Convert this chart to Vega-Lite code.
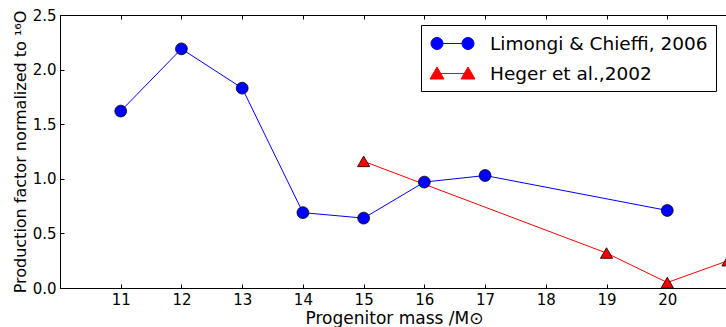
{
  "$schema": "https://vega.github.io/schema/vega-lite/v6.json",
  "autosize": "none",
  "width": 668,
  "height": 273,
  "padding": {"left": 60, "top": 15, "right": 0, "bottom": 39},
  "background": "white",
  "config": {
    "view": {"stroke": "black", "strokeWidth": 1},
    "font": "DejaVu Sans",
    "axis": {
      "labelFont": "DejaVu Sans",
      "titleFont": "DejaVu Sans",
      "labelFontSize": 15,
      "titleFontSize": 17,
      "titleFontWeight": "normal",
      "labelColor": "black",
      "titleColor": "black",
      "domainColor": "black",
      "tickColor": "black",
      "grid": false,
      "tickSize": -4,
      "labelPadding": 8
    }
  },
  "data": {
    "values": [
      {"series": "Limongi & Chieffi, 2006", "mass": 11, "pf": 1.62},
      {"series": "Limongi & Chieffi, 2006", "mass": 12, "pf": 2.19},
      {"series": "Limongi & Chieffi, 2006", "mass": 13, "pf": 1.83},
      {"series": "Limongi & Chieffi, 2006", "mass": 14, "pf": 0.69},
      {"series": "Limongi & Chieffi, 2006", "mass": 15, "pf": 0.64},
      {"series": "Limongi & Chieffi, 2006", "mass": 16, "pf": 0.97},
      {"series": "Limongi & Chieffi, 2006", "mass": 17, "pf": 1.03},
      {"series": "Limongi & Chieffi, 2006", "mass": 20, "pf": 0.71},
      {"series": "Heger et al.,2002", "mass": 15, "pf": 1.16},
      {"series": "Heger et al.,2002", "mass": 19, "pf": 0.32},
      {"series": "Heger et al.,2002", "mass": 20, "pf": 0.05},
      {"series": "Heger et al.,2002", "mass": 21, "pf": 0.25}
    ]
  },
  "encoding": {
    "x": {
      "field": "mass", "type": "quantitative",
      "scale": {"domain": [10, 21], "nice": false, "zero": false},
      "axis": null
    },
    "y": {
      "field": "pf", "type": "quantitative",
      "scale": {"domain": [0, 2.5], "nice": false},
      "axis": {"values": [0, 0.5, 1, 1.5, 2, 2.5], "format": ".1f", "title": "Production factor normalized to ¹⁶O", "titleFontSize": 16, "titlePadding": 4}
    }
  },
  "layer": [
    {
      "mark": {"type": "line", "strokeWidth": 1, "clip": true},
      "encoding": {
        "x": {"field": "mass", "type": "quantitative",
          "axis": {"orient": "bottom", "values": [11,12,13,14,15,16,17,18,19,20], "title": "Progenitor mass /M⊙", "titlePadding": 3}},
        "color": {
          "field": "series", "type": "nominal",
          "scale": {"domain": ["Limongi & Chieffi, 2006", "Heger et al.,2002"], "range": ["#0000ff", "#ff0000"]},
          "legend": {
            "title": null,
            "orient": "none",
            "legendX": 361,
            "legendY": 10,
            "labelFont": "DejaVu Sans",
            "labelFontSize": 18.5,
            "labelColor": "black",
            "labelLimit": 400,
            "labelOffset": 27,
            "symbolSize": 400,
            "symbolOffset": 13,
            "symbolStrokeWidth": 1,
            "rowPadding": 10,
            "padding": 8,
            "strokeColor": "black",
            "fillColor": "white",
            "encode": {
              "symbols": {
                "update": {
                  "shape": {"signal": "datum.value === 'Heger et al.,2002' ? 'M-1.55,0L1.55,0M-2.25,0.55L-1.55,-0.65L-0.85,0.55ZM0.85,0.55L1.55,-0.65L2.25,0.55Z' : 'M-1.55,0L1.55,0M-2.15,0a0.6,0.6 0 1,0 1.2,0a0.6,0.6 0 1,0 -1.2,0ZM0.95,0a0.6,0.6 0 1,0 1.2,0a0.6,0.6 0 1,0 -1.2,0Z'"},
                  "fill": {"scale": "color", "field": "value"},
                  "stroke": {"scale": "color", "field": "value"},
                  "strokeWidth": {"value": 1},
                  "opacity": {"value": 1}
                }
              }
            }
          }
        }
      }
    },
    {
      "transform": [{"filter": "datum.series === 'Limongi & Chieffi, 2006'"}],
      "mark": {"type": "point", "shape": "circle", "filled": true, "stroke": "black", "strokeWidth": 0.8, "opacity": 1, "size": 140, "clip": true},
      "encoding": {
        "color": {"field": "series", "type": "nominal", "legend": null}
      }
    },
    {
      "transform": [{"filter": "datum.series === 'Heger et al.,2002'"}],
      "mark": {"type": "point", "shape": "triangle-up", "filled": true, "stroke": "black", "strokeWidth": 0.8, "opacity": 1, "size": 150, "clip": true},
      "encoding": {
        "color": {"field": "series", "type": "nominal", "legend": null}
      }
    },
    {
      "mark": {"type": "rule", "opacity": 0},
      "encoding": {
        "x": {"field": "mass", "type": "quantitative",
          "axis": {"orient": "top", "values": [11,12,13,14,15,16,17,18,19,20], "labels": false, "title": null}}
      }
    }
  ],
  "resolve": {"axis": {"x": "independent"}}
}
